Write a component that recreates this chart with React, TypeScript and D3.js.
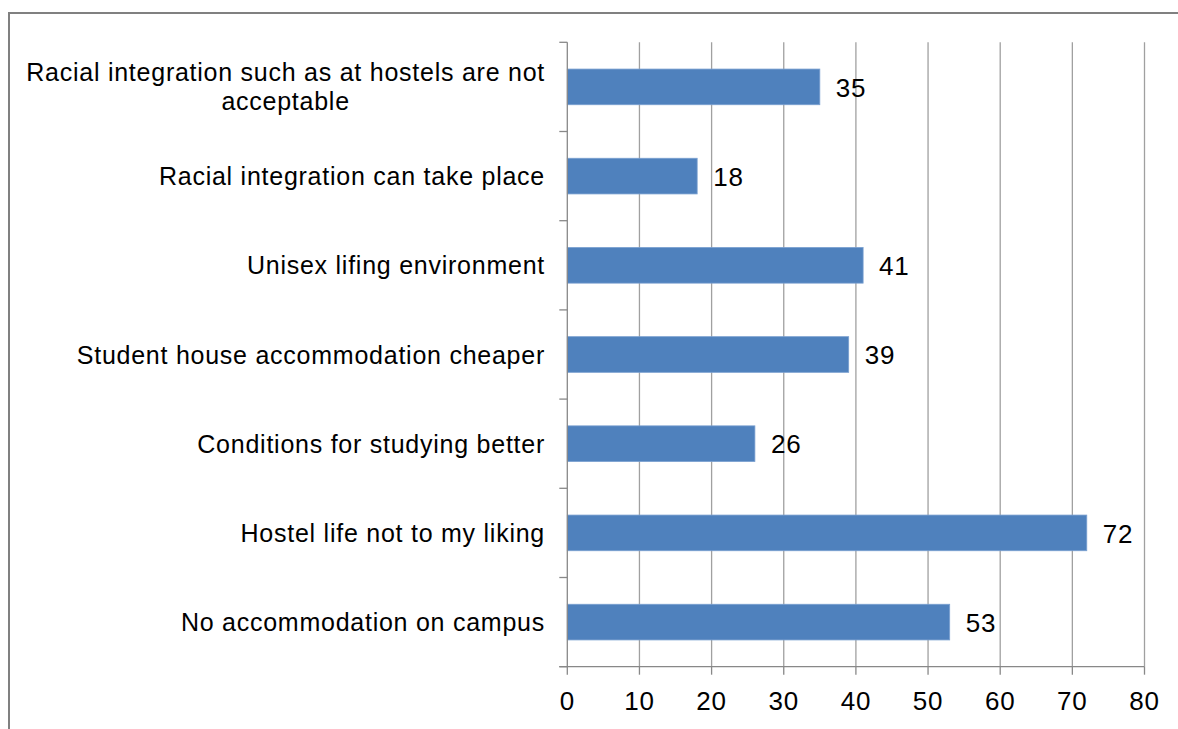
import { useRef, useEffect } from 'react'
import * as d3 from 'd3'

// Survey reasons, top to bottom as drawn
const categories: string[][] = [
  ['Racial integration such as at hostels are not', 'acceptable'],
  ['Racial integration can take place'],
  ['Unisex lifing environment'],
  ['Student house accommodation cheaper'],
  ['Conditions for studying better'],
  ['Hostel life not to my liking'],
  ['No accommodation on campus'],
]
const counts = [35, 18, 41, 39, 26, 72, 53]
const xTicks = [0, 10, 20, 30, 40, 50, 60, 70, 80]

const WIDTH = 1178
const HEIGHT = 729

export default function App() {
  const svgRef = useRef<SVGSVGElement>(null)

  useEffect(() => {
    document.body.style.margin = '0'
    if (!svgRef.current) return

    const svg = d3.select(svgRef.current)
    svg.selectAll('*').remove()

    const margin = { top: 42.3, left: 567.3, right: 1144.5, bottom: 666.7 }
    const font = "'Liberation Sans', Arial, sans-serif"
    const gridColor = '#a0a0a0'
    const axisColor = '#888888'

    // Outer frame (runs off the right and bottom edge)
    svg.append('rect')
      .attr('x', 9)
      .attr('y', 13)
      .attr('width', WIDTH)
      .attr('height', HEIGHT)
      .style('fill', 'none')
      .style('stroke', '#808080')
      .style('stroke-width', 2)

    const x = d3.scaleLinear()
      .domain([0, 80])
      .range([margin.left, margin.right])

    const keys = categories.map((_, i) => String(i))
    const y = d3.scaleBand()
      .domain(keys)
      .range([margin.top, margin.bottom])
      .paddingInner(0.6)
      .paddingOuter(0.3)

    const band = (margin.bottom - margin.top) / categories.length

    // Vertical grid lines
    svg.append('g')
      .selectAll('line')
      .data(xTicks.slice(1))
      .enter()
      .append('line')
      .attr('x1', d => x(d))
      .attr('x2', d => x(d))
      .attr('y1', margin.top)
      .attr('y2', margin.bottom)
      .style('stroke', gridColor)
      .style('stroke-width', 1.3)

    // Bars
    svg.append('g')
      .selectAll('rect')
      .data(counts)
      .enter()
      .append('rect')
      .attr('x', x(0))
      .attr('y', (_, i) => y(keys[i]) as number)
      .attr('width', d => x(d) - x(0))
      .attr('height', y.bandwidth())
      .style('fill', '#4f81bd')
      .style('stroke', '#7aa0d0')
      .style('stroke-width', 0.8)

    // Value labels
    svg.append('g')
      .selectAll('text')
      .data(counts)
      .enter()
      .append('text')
      .attr('x', d => x(d) + 16)
      .attr('y', (_, i) => (y(keys[i]) as number) + y.bandwidth() / 2)
      .attr('dy', '0.37em')
      .style('font-family', font)
      .style('font-size', '26px')
      .style('letter-spacing', '0.8px')
      .style('fill', '#000')
      .text(d => d)

    // Y axis line and ticks at band boundaries
    const yAxis = svg.append('g')
    yAxis.append('line')
      .attr('x1', x(0))
      .attr('x2', x(0))
      .attr('y1', margin.top)
      .attr('y2', margin.bottom)
      .style('stroke', axisColor)
      .style('stroke-width', 1.3)
    yAxis.selectAll('.ytick')
      .data(d3.range(categories.length + 1))
      .enter()
      .append('line')
      .attr('x1', x(0) - 8)
      .attr('x2', x(0))
      .attr('y1', d => margin.top + d * band)
      .attr('y2', d => margin.top + d * band)
      .style('stroke', axisColor)
      .style('stroke-width', 1.3)

    // Category labels (multi-line ones centred under their widest line)
    const labelRight = 545
    const lineH = 29
    categories.forEach((lines, i) => {
      const cy = (y(keys[i]) as number) + y.bandwidth() / 2
      const t = svg.append('text')
        .style('font-family', font)
        .style('font-size', '25px')
        .style('letter-spacing', '0.75px')
        .style('fill', '#000')
      const spans = lines.map((ln, j) =>
        t.append('tspan')
          .attr('y', cy + (j - (lines.length - 1) / 2) * lineH)
          .attr('dy', '0.36em')
          .text(ln)
      )
      const widths = spans.map(s => (s.node() as SVGTSpanElement).getComputedTextLength())
      const maxW = Math.max(...widths)
      spans.forEach(s => {
        s.attr('x', labelRight - maxW / 2).attr('text-anchor', 'middle')
      })
    })

    // X axis
    const xAxis = svg.append('g')
    xAxis.append('line')
      .attr('x1', x(0) - 8)
      .attr('x2', x(80))
      .attr('y1', margin.bottom)
      .attr('y2', margin.bottom)
      .style('stroke', axisColor)
      .style('stroke-width', 1.3)
    xAxis.selectAll('.xtick')
      .data(xTicks)
      .enter()
      .append('line')
      .attr('x1', d => x(d))
      .attr('x2', d => x(d))
      .attr('y1', margin.bottom)
      .attr('y2', margin.bottom + 8)
      .style('stroke', axisColor)
      .style('stroke-width', 1.3)
    xAxis.selectAll('text')
      .data(xTicks)
      .enter()
      .append('text')
      .attr('x', d => x(d))
      .attr('y', 710)
      .attr('text-anchor', 'middle')
      .style('font-family', font)
      .style('font-size', '26px')
      .style('letter-spacing', '0.8px')
      .style('fill', '#000')
      .text(d => d)
  }, [])

  return (
    <svg
      ref={svgRef}
      width={WIDTH}
      height={HEIGHT}
      style={{ display: 'block', background: '#fff' }}
    />
  )
}
